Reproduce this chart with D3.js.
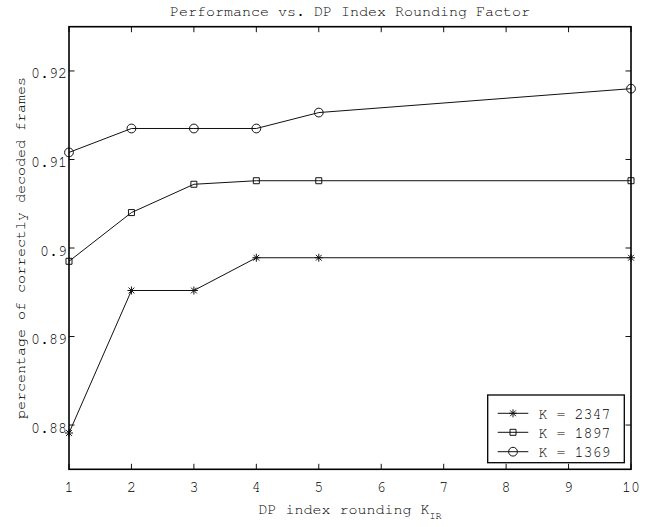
<!DOCTYPE html>
<html>
<head>
<meta charset="utf-8">
<script src="https://cdn.jsdelivr.net/npm/d3@7"></script>
<style>
  html, body { margin: 0; padding: 0; background: #fff; }
  svg { display: block; }
  text { font-family: "Nimbus Mono PS", "FreeMono", "Courier 10 Pitch", "Liberation Mono", "DejaVu Sans Mono", monospace; fill: #000; }
</style>
</head>
<body>
<svg id="chart" width="662" height="527"></svg>
<script>
// ---- data ----
const xValues = [1, 2, 3, 4, 5, 10];
const seriesNames = ["K = 2347", "K = 1897", "K = 1369"];
const seriesMarkers = ["star", "square", "circle"];
const k2347 = [0.8791, 0.8952, 0.8952, 0.8989, 0.8989, 0.8989];
const k1897 = [0.8985, 0.9040, 0.9072, 0.9076, 0.9076, 0.9076];
const k1369 = [0.9108, 0.9135, 0.9135, 0.9135, 0.9153, 0.9180];
const xTicks = [1, 2, 3, 4, 5, 6, 7, 8, 9, 10];
const yTicks = [0.88, 0.89, 0.90, 0.91, 0.92];
const yTickLabels = ["0.88", "0.89", "0.9", "0.91", "0.92"];
const titleText = "Performance vs. DP Index Rounding Factor";
const xLabelMain = "DP index rounding K";
const xLabelSub = "IR";
const yLabelText = "percentage of correctly decoded frames";

const seriesValues = [k2347, k1897, k1369];

// ---- layout ----
const L = 69, R = 631, T = 26.7, B = 469.3;
const svg = d3.select("#chart");
const x = d3.scaleLinear().domain([1, 10]).range([L, R]);
const y = d3.scaleLinear().domain([0.875, 0.925]).range([B, T]);

function markerPath(type) {
  if (type === "circle") {
    return "M4.4,0A4.4,4.4,0,1,1,-4.4,0A4.4,4.4,0,1,1,4.4,0Z";
  } else if (type === "square") {
    return "M-3,-3L3,-3L3,3L-3,3Z";
  } else {
    const r = 4, d = 2.9;
    return `M${-r},0L${r},0M0,${-r}L0,${r}M${-d},${-d}L${d},${d}M${-d},${d}L${d},${-d}`;
  }
}

// ---- series ----
const line = d3.line().x((d, i) => x(xValues[i])).y(d => y(d));
const gSeries = svg.append("g");
seriesValues.forEach((vals, si) => {
  gSeries.append("path")
    .attr("d", line(vals))
    .attr("fill", "none")
    .attr("stroke", "#111")
    .attr("stroke-width", 1);
  gSeries.selectAll(null)
    .data(vals)
    .enter().append("path")
    .attr("transform", (d, i) => `translate(${x(xValues[i])},${y(d)})`)
    .attr("d", markerPath(seriesMarkers[si]))
    .attr("fill", "none")
    .attr("stroke", "#111")
    .attr("stroke-width", 1);
});

// ---- axes box and ticks ----
const axG = svg.append("g");
const tickLen = 5.5;
xTicks.forEach(t => {
  axG.append("line").attr("x1", x(t)).attr("x2", x(t)).attr("y1", B).attr("y2", B - tickLen)
    .attr("stroke", "#111").attr("stroke-width", 1);
  axG.append("line").attr("x1", x(t)).attr("x2", x(t)).attr("y1", T).attr("y2", T + tickLen)
    .attr("stroke", "#111").attr("stroke-width", 1);
  axG.append("text").attr("x", x(t)).attr("y", 492).attr("text-anchor", "middle")
    .attr("font-size", 15).text(String(t));
});
yTicks.forEach((t, i) => {
  axG.append("line").attr("x1", L).attr("x2", L + tickLen).attr("y1", y(t)).attr("y2", y(t))
    .attr("stroke", "#111").attr("stroke-width", 1);
  axG.append("line").attr("x1", R).attr("x2", R - tickLen).attr("y1", y(t)).attr("y2", y(t))
    .attr("stroke", "#111").attr("stroke-width", 1);
  axG.append("text").attr("x", 67).attr("y", y(t) + 7.5).attr("text-anchor", "end")
    .attr("font-size", 15).text(yTickLabels[i]);
});
axG.append("rect").attr("x", L).attr("y", T).attr("width", R - L).attr("height", B - T)
  .attr("fill", "none").attr("stroke", "#000").attr("stroke-width", 1.6);

// ---- titles ----
svg.append("text").attr("x", (L + R) / 2).attr("y", 16).attr("text-anchor", "middle")
  .attr("font-size", 15).text(titleText);
const xl = svg.append("text").attr("x", (L + R) / 2).attr("y", 514).attr("text-anchor", "middle")
  .attr("font-size", 15);
xl.append("tspan").text(xLabelMain);
xl.append("tspan").attr("font-size", 10).attr("dy", 5).text(xLabelSub);
svg.append("text").attr("transform", `translate(25,${(T + B) / 2}) rotate(-90)`)
  .attr("text-anchor", "middle").attr("font-size", 15).text(yLabelText);

// ---- legend ----
const lg = svg.append("g");
lg.append("rect").attr("x", 487.7).attr("y", 395).attr("width", 624.3 - 487.7).attr("height", 462.7 - 395)
  .attr("fill", "#fff").attr("stroke", "#000").attr("stroke-width", 1.3);
const rowY = [413.3, 432.3, 451.7];
seriesNames.forEach((name, i) => {
  lg.append("line").attr("x1", 497.7).attr("x2", 528.3).attr("y1", rowY[i]).attr("y2", rowY[i])
    .attr("stroke", "#111").attr("stroke-width", 1);
  lg.append("path").attr("transform", `translate(513,${rowY[i]})`).attr("d", markerPath(seriesMarkers[i]))
    .attr("fill", "none").attr("stroke", "#111").attr("stroke-width", 1);
  lg.append("text").attr("x", 538.5).attr("y", rowY[i] + 5.5).attr("font-size", 15).text(name);
});
</script>
</body>
</html>
